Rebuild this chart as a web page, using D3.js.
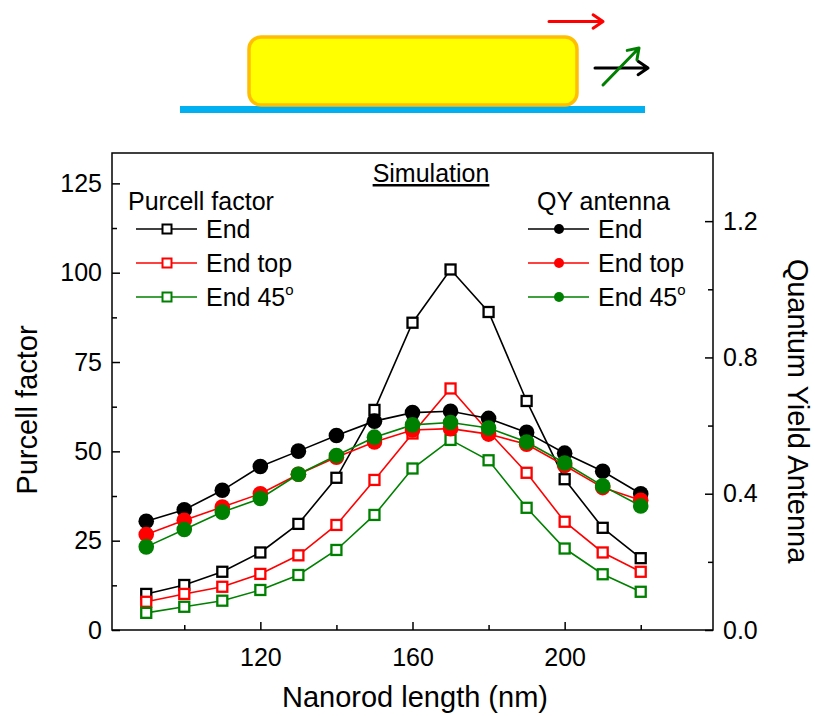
<!DOCTYPE html>
<html>
<head>
<meta charset="utf-8">
<script src="https://cdn.jsdelivr.net/npm/d3@7"></script>
<style>
  body { margin: 0; background: #fff; }
  svg { font-family: "Liberation Sans", Arial, sans-serif; }
  .axis text { font-size: 25px; fill: #000; }
  .axis line { stroke: #000; stroke-width: 1.5; }
  .axis path { display: none; }
</style>
</head>
<body>
<div id="chart"></div>
<script>
// nanorod lengths (nm)
const lengths = [90, 100, 110, 120, 130, 140, 150, 160, 170, 180, 190, 200, 210, 220];

// Purcell factor (left axis)
const purcellEnd = [10.1, 12.6, 16.3, 21.7, 29.7, 42.6, 61.6, 86.0, 100.9, 89.0, 64.1, 42.2, 28.6, 20.1];
const purcellEndTop = [7.9, 10.1, 12.1, 15.7, 20.9, 29.4, 42.0, 55.0, 67.6, 55.5, 44.0, 30.3, 21.7, 16.3];
const purcellEnd45 = [4.8, 6.5, 8.2, 11.2, 15.4, 22.4, 32.2, 45.2, 53.2, 47.5, 34.2, 22.8, 15.6, 10.7];

// QY antenna (right axis)
const qyEnd = [0.319, 0.353, 0.41, 0.48, 0.525, 0.571, 0.613, 0.638, 0.642, 0.621, 0.58, 0.519, 0.466, 0.4];
const qyEndTop = [0.28, 0.322, 0.361, 0.4, 0.457, 0.507, 0.552, 0.587, 0.591, 0.575, 0.545, 0.483, 0.418, 0.381];
const qyEnd45 = [0.244, 0.295, 0.346, 0.386, 0.457, 0.512, 0.566, 0.602, 0.609, 0.593, 0.552, 0.49, 0.423, 0.364];

const seriesNames = ["End", "End top", "End 45"];
const seriesColors = ["#000000", "#ff0000", "#008000"];

const xMajor = [120, 160, 200];
const xMinor = [100, 140, 180, 220];
const yLeftMajor = [0, 25, 50, 75, 100, 125];
const yLeftMinor = [12.5, 37.5, 62.5, 87.5, 112.5];
const yRightMajor = [0, 0.4, 0.8, 1.2];
const yRightMinor = [0.2, 0.6, 1.0];

const W = 815, H = 716;
const plot = { left: 112, right: 713, top: 153, bottom: 630 };

const svg = d3.select("#chart").append("svg").attr("width", W).attr("height", H);

// ---- sketch of the nanorod on substrate ----
const sketch = svg.append("g");
sketch.append("rect")
  .attr("x", 180).attr("y", 106).attr("width", 465).attr("height", 7)
  .attr("fill", "#00b0f0");
sketch.append("rect")
  .attr("x", 249).attr("y", 37).attr("width", 328).attr("height", 68)
  .attr("rx", 12).attr("ry", 12)
  .attr("fill", "#ffff00").attr("stroke", "#ffbf00").attr("stroke-width", 3.5);

function arrow(x1, y1, x2, y2, color) {
  const ang = Math.atan2(y2 - y1, x2 - x1);
  const len = 12, spread = 0.6;
  const a1 = [x2 - len * Math.cos(ang - spread), y2 - len * Math.sin(ang - spread)];
  const a2 = [x2 - len * Math.cos(ang + spread), y2 - len * Math.sin(ang + spread)];
  sketch.append("path")
    .attr("d", `M${x1},${y1}L${x2},${y2}M${a1[0]},${a1[1]}L${x2},${y2}L${a2[0]},${a2[1]}`)
    .attr("fill", "none").attr("stroke", color).attr("stroke-width", 3)
    .attr("stroke-linecap", "round").attr("stroke-linejoin", "round");
}
arrow(549, 21.5, 603, 21.5, "#ff0000");
arrow(595, 68, 648, 68, "#000000");
arrow(603, 85, 639, 48, "#008000");

// ---- scales ----
const xScale = d3.scaleLinear().domain([81, 239]).range([plot.left, plot.right]);
const yLeft = d3.scaleLinear().domain([0, 133.5]).range([plot.bottom, plot.top]);
const yRight = d3.scaleLinear().domain([0, 1.4]).range([plot.bottom, plot.top]);

// ---- axes ----
svg.append("g").attr("class", "axis")
  .attr("transform", `translate(0,${plot.bottom})`)
  .call(d3.axisBottom(xScale).tickValues(xMajor).tickSize(-8).tickPadding(18));
svg.append("g").attr("class", "axis")
  .attr("transform", `translate(0,${plot.bottom})`)
  .call(d3.axisBottom(xScale).tickValues(xMinor).tickSize(-5).tickFormat(""));

svg.append("g").attr("class", "axis")
  .attr("transform", `translate(${plot.left},0)`)
  .call(d3.axisLeft(yLeft).tickValues(yLeftMajor).tickSize(-8).tickPadding(10));
svg.append("g").attr("class", "axis")
  .attr("transform", `translate(${plot.left},0)`)
  .call(d3.axisLeft(yLeft).tickValues(yLeftMinor).tickSize(-5).tickFormat(""));

svg.append("g").attr("class", "axis")
  .attr("transform", `translate(${plot.right},0)`)
  .call(d3.axisRight(yRight).tickValues(yRightMajor).tickSize(-8).tickPadding(10).tickFormat(d3.format(".1f")));
svg.append("g").attr("class", "axis")
  .attr("transform", `translate(${plot.right},0)`)
  .call(d3.axisRight(yRight).tickValues(yRightMinor).tickSize(-5).tickFormat(""));

svg.append("rect")
  .attr("x", plot.left).attr("y", plot.top)
  .attr("width", plot.right - plot.left).attr("height", plot.bottom - plot.top)
  .attr("fill", "none").attr("stroke", "#000").attr("stroke-width", 1.5);

// axis titles
svg.append("text")
  .attr("transform", `translate(37,410) rotate(-90)`)
  .attr("text-anchor", "middle").style("font-size", "29px")
  .text("Purcell factor");
svg.append("text")
  .attr("transform", `translate(788,411) rotate(90)`)
  .attr("text-anchor", "middle").style("font-size", "29px")
  .text("Quantum Yield Antenna");
svg.append("text")
  .attr("x", 415).attr("y", 707)
  .attr("text-anchor", "middle").style("font-size", "29px")
  .text("Nanorod length (nm)");

// ---- data ----
const purcellSeries = [purcellEnd, purcellEndTop, purcellEnd45];
const qySeries = [qyEnd, qyEndTop, qyEnd45];

const lineLeft = d3.line().x((d, i) => xScale(lengths[i])).y((d) => yLeft(d));
const lineRight = d3.line().x((d, i) => xScale(lengths[i])).y((d) => yRight(d));

purcellSeries.forEach((vals, s) => {
  const g = svg.append("g");
  g.append("path").datum(vals).attr("d", lineLeft)
    .attr("fill", "none").attr("stroke", seriesColors[s]).attr("stroke-width", 1.6);
  g.selectAll("rect").data(vals).enter().append("rect")
    .attr("x", (d, i) => xScale(lengths[i]) - 5)
    .attr("y", (d) => yLeft(d) - 5)
    .attr("width", 10).attr("height", 10)
    .attr("fill", "#fff").attr("stroke", seriesColors[s]).attr("stroke-width", 2.3);
});

qySeries.forEach((vals, s) => {
  const g = svg.append("g");
  g.append("path").datum(vals).attr("d", lineRight)
    .attr("fill", "none").attr("stroke", seriesColors[s]).attr("stroke-width", 1.6);
  g.selectAll("circle").data(vals).enter().append("circle")
    .attr("cx", (d, i) => xScale(lengths[i]))
    .attr("cy", (d) => yRight(d))
    .attr("r", 7.8)
    .attr("fill", seriesColors[s]);
});

// ---- annotations / legends ----
svg.append("text")
  .attr("x", 431).attr("y", 182)
  .attr("text-anchor", "middle").style("font-size", "25px")
  .attr("text-decoration", "underline")
  .text("Simulation");

function legend(titleX, x0, title, marker) {
  const g = svg.append("g");
  g.append("text").attr("x", titleX).attr("y", 210).style("font-size", "25px").text(title);
  seriesNames.forEach((name, i) => {
    const yb = 238 + i * 34;
    const ym = yb - 9;
    g.append("line")
      .attr("x1", x0).attr("x2", x0 + 61).attr("y1", ym).attr("y2", ym)
      .attr("stroke", seriesColors[i]).attr("stroke-width", 1.6);
    if (marker === "square") {
      g.append("rect").attr("x", x0 + 26.5).attr("y", ym - 4.5).attr("width", 9).attr("height", 9)
        .attr("fill", "#fff").attr("stroke", seriesColors[i]).attr("stroke-width", 2);
    } else {
      g.append("circle").attr("cx", x0 + 31).attr("cy", ym).attr("r", 5)
        .attr("fill", seriesColors[i]);
    }
    const t = g.append("text").attr("x", x0 + 70).attr("y", yb).style("font-size", "25px");
    if (name === "End 45") {
      t.text("End 45");
      t.append("tspan").attr("dy", -11).style("font-size", "15px").text("o");
    } else {
      t.text(name);
    }
  });
}
legend(128, 136, "Purcell factor", "square");
legend(537, 528, "QY antenna", "circle");
</script>
</body>
</html>
